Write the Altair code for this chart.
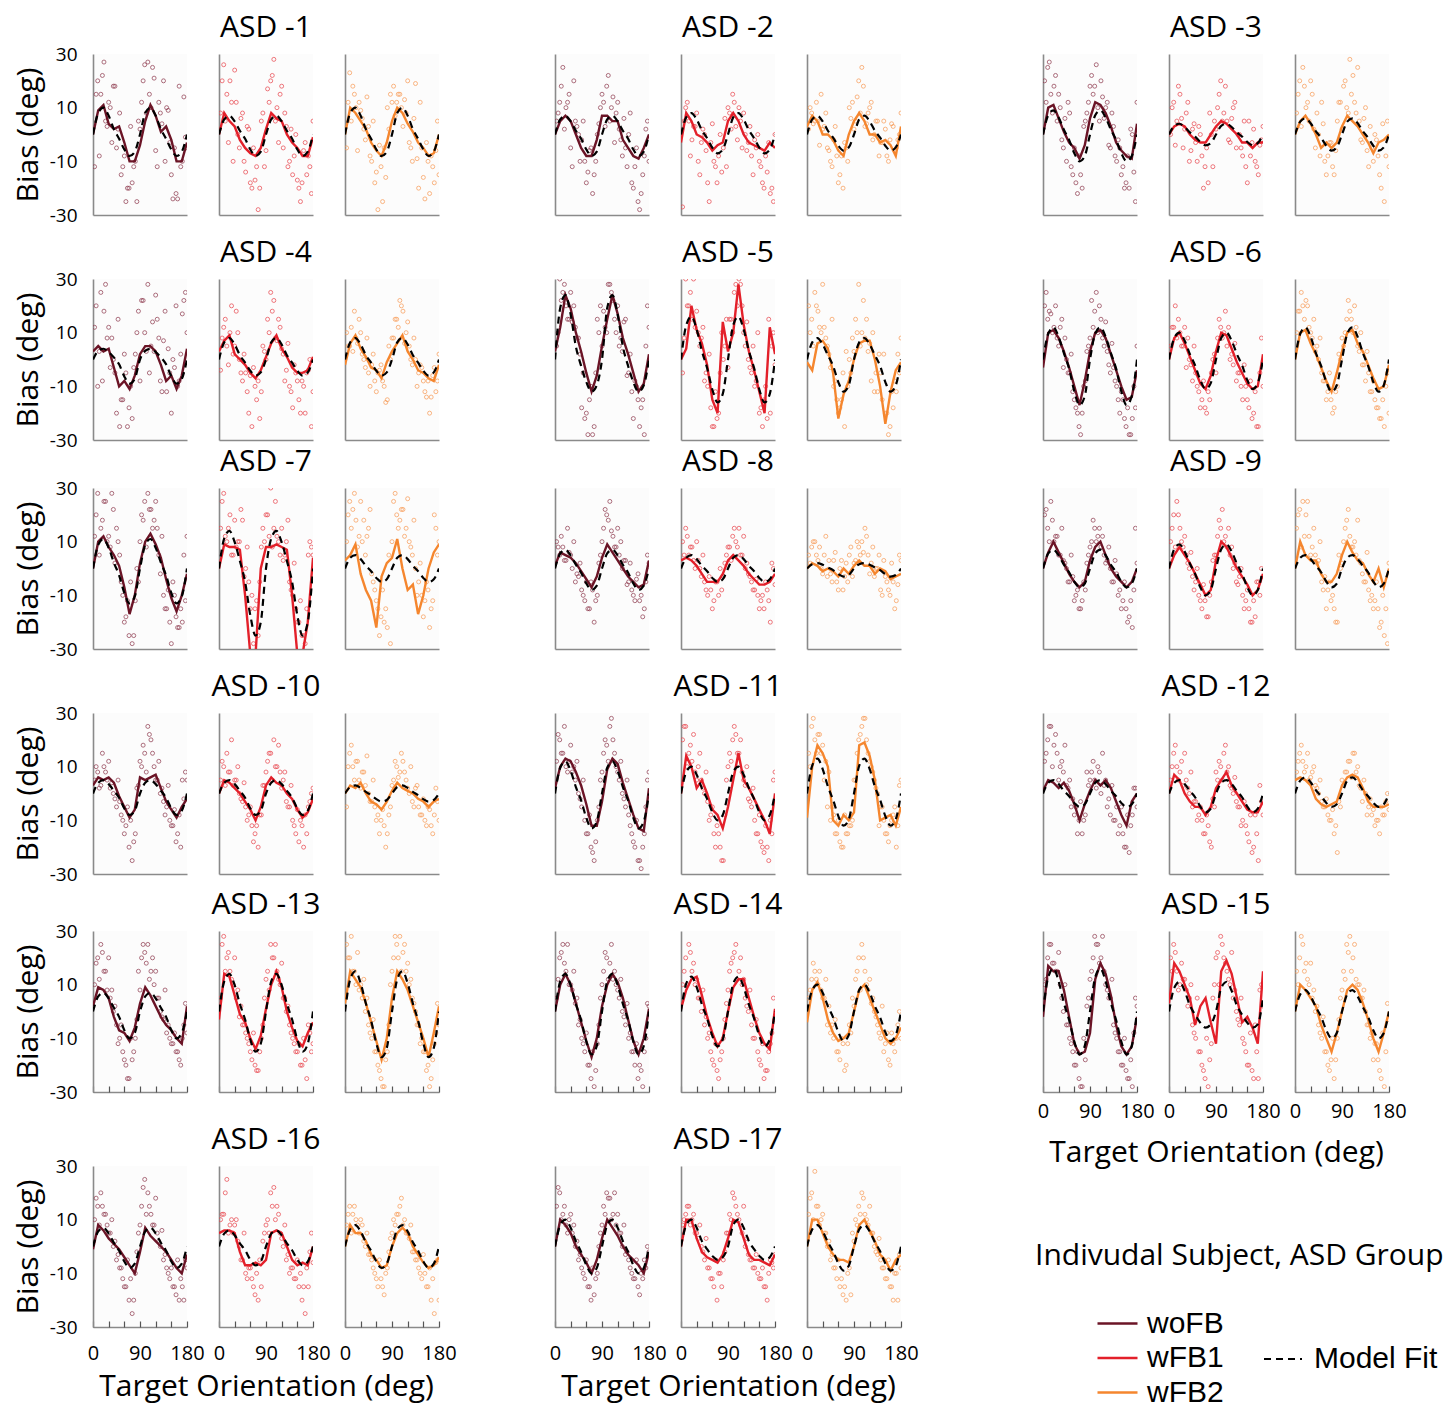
import altair as alt
import pandas as pd

FONT = "Open Sans"
LEGEND_FONT = "Liberation Sans"
CONDITIONS = ["woFB", "wFB1", "wFB2"]
LINE_COLORS = ["#6b1426", "#e3202a", "#f5862e"]
POINT_COLORS = ["#8e3a4e", "#e9454c", "#f79b55"]
SUBJECT_TITLES = ["ASD -%d" % k for k in range(1, 18)]
Y_TICKS = [-30, -20, -10, 0, 10, 20, 30]
X_LABEL_TICKS = [0, 90, 180]
X_MINOR_TICKS = [0, 30, 60, 90, 120, 150, 180]
CURVE_X = [0, 10, 20, 30, 40, 50, 60, 70, 80, 90, 100, 110, 120, 130, 140, 150, 160, 170, 180]
POINT_X = [3, 9, 15, 21, 27, 33, 39, 45, 51, 57, 63, 69, 75, 81, 87, 93, 99, 105, 111, 117,
           123, 129, 135, 141, 147, 153, 159, 165, 171, 177]
POINT_X2 = [6, 12, 18, 24, 30, 36, 42, 48, 54, 60, 66, 72, 78, 84, 90, 96, 102, 108, 114, 120,
            126, 132, 138, 144, 150, 156, 162, 168, 174, 180]

# ---- subject 1 ----
FIT_S1 = [[0, 8, 10, 7, 2, -1.6, -5.6, -8, -6.4, 0, 8, 10, 7, 2, -1.6, -5.6, -8, -6.4, 0],
          [0, 5.6, 7, 4.9, 1.4, -1.6, -5.6, -8, -6.4, 0, 5.6, 7, 4.9, 1.4, -1.6, -5.6, -8, -6.4, 0],
          [0, 8, 10, 7, 2, -1.6, -5.6, -8, -6.4, 0, 8, 10, 7, 2, -1.6, -5.6, -8, -6.4, 0]]
LINE_S1 = [[0, 9, 11, 4, 2, 3, -3, -10, -10, -4, 5, 11, 7, 1, 3, -2, -10, -10, -3],
           [0, 8, 5, 3, -2, -5, -7, -8, -5, 2, 8, 6, 5, 0, -3, -5, -8, -8, -1],
           [0, 10, 8, 5, 2, -3, -6, -8, -3, 5, 10, 8, 4, 1, -3, -5, -8, -7, 0]]
PTS_S1 = [[-12, 20, 15, 27, 3, 10, 18, -5, 8, -12, -25, -20, -18, -10, 5, 12, 26, 27, 10, 21, -12, 8, 20, 10, -3, -24, -22, 18, -10, -1],
          [8, 26, 15, 20, -10, 12, -5, 8, -14, 2, -20, -17, -28, 5, -12, 17, 20, 28, 10, 15, -5, 3, -10, -15, 0, -20, -18, -3, -8, -22],
          [-5, 23, 18, 10, 12, 6, -2, 3, -10, -18, -28, -12, -5, 10, 15, 18, 12, 15, 3, 8, -3, -10, 19, -20, -5, -24, -10, -8, -18, 5]]
PTSB_S1 = [[15, -8, 22, 5, 12, -3, 18, 2, -15, -8, -20, 3, -12, -25, 2, 20, 8, 15, 25, -6, 12, 4, -10, 9, -15, -5, -24, -12, 14, -5],
           [20, 5, -3, 12, 24, 0, 6, -10, 3, -18, -5, -12, -20, 8, -6, 12, 22, 5, -3, 18, 8, -12, 2, -8, -17, -25, -6, -15, -12, 5],
           [12, 5, 15, -6, 9, 2, 14, -8, 5, -14, -4, -25, -16, 2, 12, 7, 15, 10, 13, 20, -5, 6, -9, 12, -16, -3, -22, -12, -6, -15]]
# ---- subject 2 ----
FIT_S2 = [[0, 5.6, 7, 4.9, 1.4, -1.6, -5.6, -8, -6.4, 0, 5.6, 7, 4.9, 1.4, -1.6, -5.6, -8, -6.4, 0],
          [0, 6.4, 8, 5.6, 1.6, -1.4, -4.9, -7, -5.6, 0, 6.4, 8, 5.6, 1.6, -1.4, -4.9, -7, -5.6, 0],
          [0, 5.6, 7, 4.9, 1.4, -1.2, -4.2, -6, -4.8, 0, 5.6, 7, 4.9, 1.4, -1.2, -4.2, -6, -4.8, 0]]
LINE_S2 = [[0, 5, 7, 5, 0, -5, -8, -8, -2, 7, 7, 5, 5, -2, -5, -8, -9, -5, 0],
           [-3, 8, 5, 0, -1, -3, -6, -4, -3, 5, 8, 5, 0, -3, -4, -5, -6, -3, -5],
           [3, 7, 5, 0, 0, -2, -6, -8, 0, 5, 8, 5, 0, 0, -3, -2, -4, -8, 3]]
PTS_S2 = [[5, 12, 25, 10, 15, -12, 5, 0, -2, -10, -14, -5, -15, 0, 10, 12, 18, 5, 14, 8, 2, -8, -5, 0, -18, -12, -25, -22, -8, 5],
          [-27, 10, 5, -2, 3, -10, -3, 0, -18, -3, -10, -18, 0, -5, -12, 8, 15, 3, 10, -5, 0, -3, -8, -2, 0, -12, -20, -14, -22, -25],
          [2, 8, 5, 5, 15, 3, -5, -10, -2, -8, -15, -20, -5, 10, 12, 5, 20, 25, 3, 8, 12, 0, 5, -3, 5, -8, -2, 3, -5, 0]]
PTSB_S2 = [[8, 18, 2, 12, -5, 20, 3, -10, 5, -18, -6, -22, -10, 4, 15, 3, 22, 10, -3, 12, -2, 6, -12, 8, -20, -5, -28, -15, 2, -10],
           [5, 12, -8, 3, 8, -15, 2, -6, -25, 4, -12, -8, -14, 6, 10, 2, 12, -2, 5, 8, -6, 3, -15, -5, -10, -18, -8, -3, -20, 0],
           [10, 4, 12, -4, 2, 8, -6, -12, 3, -18, -8, -3, -10, 6, 2, 14, 8, 18, 4, 10, -2, 5, -8, -3, 2, -10, 4, -6, -2, 8]]
# ---- subject 3 ----
FIT_S3 = [[0, 7.2, 9, 6.3, 1.8, -2, -7, -10, -8, 0, 7.2, 9, 6.3, 1.8, -2, -7, -10, -8, 0],
          [0, 3.2, 4, 2.8, 0.8, -0.8, -2.8, -4, -3.2, 0, 3.2, 4, 2.8, 0.8, -0.8, -2.8, -4, -3.2, 0],
          [0, 4.8, 6, 4.2, 1.2, -1.2, -4.2, -6, -4.8, 0, 4.8, 6, 4.2, 1.2, -1.2, -4.2, -6, -4.8, 0]]
LINE_S3 = [[0, 10, 11, 6, 1, -3, -5, -9, -4, 6, 12, 11, 8, 3, -3, -6, -8, -9, 4],
           [0, 3, 4, 3, 0, -2, -3, -3, 0, 3, 5, 4, 2, 0, -3, -3, -5, -3, -3],
           [0, 5, 7, 4, 0, -5, -3, -5, -3, 3, 7, 5, 3, 0, -3, -7, -3, -2, 0]]
PTS_S3 = [[20, 25, 15, 18, 5, 10, -5, -10, 8, -15, -18, -8, -20, 5, 12, 22, 18, 10, 20, 6, 12, -5, 3, -10, -5, -12, -18, -20, 0, -25],
          [0, 12, 5, 15, -5, 8, -10, 2, -3, 3, -8, -12, -18, 0, 5, 10, 20, 8, 5, -3, 10, -5, 0, -8, -12, 5, -3, -10, -15, -2],
          [8, 20, 25, 10, 5, 15, -5, 0, 12, -10, -8, -3, -15, 5, 12, 18, 10, 28, 22, 8, 5, -3, 10, -12, -5, 0, -8, -20, -25, 5]]
PTSB_S3 = [[12, 27, 8, 22, 15, -2, 6, 12, -12, -5, -22, -15, 3, 8, 18, 15, 26, 5, 14, 10, -4, 8, -8, -2, -15, -20, -8, 2, -14, 12],
           [10, -4, 18, 6, 2, 12, -6, 4, -10, 0, -20, -5, 8, -12, 2, 15, 5, 18, -2, 6, 12, 0, -5, 5, -18, -8, 2, -12, -4, 3],
           [15, 3, 18, 12, 20, 2, 8, -8, 4, -15, -3, -12, -6, 12, 2, 20, 8, 15, 12, 25, -2, 6, -6, 3, -10, -2, -15, 4, -8, -12]]
# ---- subject 4 ----
FIT_S4 = [[0, 3.2, 4, 2.8, 0.8, -1.8, -6.3, -9, -7.2, 0, 3.2, 4, 2.8, 0.8, -1.8, -6.3, -9, -7.2, 0],
          [0, 6.4, 8, 5.6, 1.6, -1.2, -4.2, -6, -4.8, 0, 6.4, 8, 5.6, 1.6, -1.2, -4.2, -6, -4.8, 0],
          [0, 6.4, 8, 5.6, 1.6, -1.2, -4.2, -6, -4.8, 0, 6.4, 8, 5.6, 1.6, -1.2, -4.2, -6, -4.8, 0]]
LINE_S4 = [[3, 5, 3, 4, -3, -10, -8, -11, -6, 2, 5, 5, 3, -2, -8, -6, -11, -6, 4],
           [3, 7, 9, 2, 0, -2, -5, -7, -4, 1, 6, 9, 4, 1, -3, -5, -5, -4, 1],
           [-2, 6, 9, 4, 1, -3, -4, -7, -1, 3, 6, 9, 3, 0, -4, -5, -7, -8, -2]]
PTS_S4 = [[12, -10, 25, 18, 8, -3, 0, -20, -25, -15, -5, -18, -22, 2, 18, 22, 10, 28, 5, 3, 15, -8, 7, -12, -5, 0, 20, -8, 17, 25],
          [-4, 12, 5, 10, 2, 18, 0, -8, -5, -20, -25, -10, -8, -12, 3, 15, 25, 22, 7, 12, 2, -4, -10, -18, -5, -15, -8, -20, -4, -25],
          [10, 5, 3, 8, 15, 2, -3, -5, -2, -8, -5, -2, -10, -15, 0, 8, 15, 22, 18, 10, 5, -2, 0, -5, -3, -12, -8, -14, -3, -8]]
PTSB_S4 = [[20, 3, -8, 28, 12, 8, -5, 15, -15, 2, -25, -10, -3, 10, -8, 22, 3, -5, 14, 24, 8, -12, 18, 4, -20, -3, -10, 2, 22, 10],
           [8, 15, -2, 20, 5, 10, -5, 2, -12, -6, -3, -15, -22, 5, 0, 10, 18, 8, 15, 4, -8, 6, -12, -2, -8, -20, -10, -5, 0, -12],
           [5, 12, 18, 6, 10, 0, 8, -10, 2, -12, -4, -8, -16, 5, 8, 15, 12, 20, 6, 14, 0, 8, -10, -2, -8, -14, -20, -6, -12, 2]]
# ---- subject 5 ----
FIT_S5 = [[0, 19.2, 24, 16.8, 4.8, -2.4, -8.4, -12, -9.6, 0, 19.2, 24, 16.8, 4.8, -2.4, -8.4, -12, -9.6, 0],
          [0, 12.8, 16, 11.2, 3.2, -3.2, -11.2, -16, -12.8, 0, 12.8, 16, 11.2, 3.2, -3.2, -11.2, -16, -12.8, 0],
          [0, 6.4, 8, 5.6, 1.6, -2.4, -8.4, -12, -9.6, 0, 6.4, 8, 5.6, 1.6, -2.4, -8.4, -12, -9.6, 0]]
LINE_S5 = [[3, 12, 24, 19, 10, 3, -5, -12, -6, 5, 15, 24, 17, 8, 2, -5, -12, -9, 2],
           [0, 4, 20, 11, 6, -2, -15, -20, 14, 3, 10, 28, 13, 3, -4, -12, -20, 12, 2],
           [-1, -4, 6, 7, 4, -5, -22, -13, -8, 0, 6, 7, 7, 0, -10, -24, -12, -4, -1]]
PTS_S5 = [[5, 30, 25, 20, 15, 14, 12, 8, -18, -22, -28, -10, -25, 15, 20, 18, 10, 28, 22, 10, 5, 3, 15, -5, -12, -8, -15, -18, -28, 20],
          [-5, 30, 20, 15, 12, 10, 8, -8, -10, -18, -25, -22, -5, 0, 15, 15, 10, 28, 30, 20, 5, 0, -5, -10, 10, -18, -15, -22, -20, 10],
          [20, 15, 25, 18, 10, 12, 5, -3, -10, -15, -18, -5, 3, 0, 8, 15, 28, 10, 8, 3, -8, -12, -12, -5, 2, -20, -25, -18, -12, -5]]
PTSB_S5 = [[10, 22, 28, 15, 25, 20, 8, 2, -5, -20, -15, -28, -5, 10, 5, 12, 28, 25, 15, 20, 8, 14, -6, 2, -22, -10, -25, -15, 5, 12],
           [8, 20, 25, 30, 18, 5, 12, -5, 2, -25, -12, -20, 10, 5, -3, 15, 25, 20, 28, 10, 14, -3, 5, -8, -20, -25, -10, 15, 5, -2],
           [10, 5, 20, 12, 28, 8, 2, 15, -8, -20, -15, -25, -10, -5, 3, 10, 5, 22, 15, 6, 10, -5, 2, -15, -20, -28, -12, -8, 2, 8]]
# ---- subject 6 ----
FIT_S6 = [[0, 9.6, 12, 8.4, 2.4, -3.4, -11.9, -17, -13.6, 0, 9.6, 12, 8.4, 2.4, -3.4, -11.9, -17, -13.6, 0],
          [0, 8, 10, 7, 2, -2.2, -7.7, -11, -8.8, 0, 8, 10, 7, 2, -2.2, -7.7, -11, -8.8, 0],
          [0, 9.6, 12, 8.4, 2.4, -2.4, -8.4, -12, -9.6, 0, 9.6, 12, 8.4, 2.4, -2.4, -8.4, -12, -9.6, 0]]
LINE_S6 = [[-3, 10, 11, 8, 3, -3, -10, -17, -8, 3, 10, 11, 8, 2, -4, -10, -15, -14, -4],
           [0, 8, 10, 6, 1, -4, -9, -11, -6, 3, 10, 9, 4, -1, -5, -9, -11, -10, 2],
           [0, 10, 11, 6, 2, -3, -8, -12, -5, 3, 10, 11, 6, 3, -2, -7, -11, -10, -2]]
PTS_S6 = [[20, 15, 17, 12, 8, 12, -3, 0, -5, -12, -18, -25, -20, -8, 5, 22, 18, 10, 15, 5, 3, -5, -3, -10, -20, -15, -25, -28, -22, -18],
          [5, 12, 8, 10, 5, -3, 0, -8, -5, -12, -15, -18, -12, -5, 2, 8, 12, 10, 5, 0, -2, -8, -5, -15, -10, -18, -22, -12, -25, 8],
          [10, 18, 20, 22, 12, 8, 3, 0, -5, -8, -12, -15, -18, -10, 0, 5, 15, 18, 10, 12, 3, -2, -8, -5, -12, -15, -18, -22, -25, -5]]
PTSB_S6 = [[25, 18, 10, 20, 5, 15, 8, -5, 2, -15, -20, -28, -10, 3, 8, 12, 25, 20, 8, 14, -2, 6, -8, -15, -12, -22, -18, -28, -10, 5],
           [12, 20, 15, 5, 12, 8, -2, 5, -10, -18, -8, -20, -15, 0, -5, 15, 8, 18, 12, 2, 6, -5, -10, -2, -15, -8, -20, -25, -5, -10],
           [18, 25, 15, 20, 10, 15, 5, 8, -8, -15, -5, -20, -12, 2, 8, 10, 22, 15, 20, 5, 10, -2, 3, -12, -8, -18, -22, -15, -10, -20]]
# ---- subject 7 ----
FIT_S7 = [[0, 8.8, 11, 7.7, 2.2, -2.6, -9.1, -13, -10.4, 0, 8.8, 11, 7.7, 2.2, -2.6, -9.1, -13, -10.4, 0],
          [0, 11.2, 14, 9.8, 2.8, -5, -17.5, -25, -20, 0, 11.2, 14, 9.8, 2.8, -5, -17.5, -25, -20, 0],
          [0, 4, 5, 3.5, 1, -1, -3.5, -5, -4, 0, 4, 5, 3.5, 1, -1, -3.5, -5, -4, 0]]
LINE_S7 = [[0, 10, 12, 8, 5, 1, -7, -17, -10, 2, 10, 13, 9, 4, -4, -11, -16, -10, -2],
           [0, 9, 8, 8, 7, -10, -32, -32, 0, 8, 8, 9, 8, 7, -10, -32, -32, -20, 4],
           [3, 5, 9, -2, -8, -12, -22, -3, 2, 4, 11, 0, -8, -6, -17, -10, 0, 6, 9]]
PTS_S7 = [[12, 28, 15, 25, 10, 8, 22, 15, 5, -10, -18, -25, -28, -12, -5, 20, 25, 28, 22, 18, 15, -2, -10, -15, -20, -5, -18, -22, -20, -12],
          [15, 28, 10, 20, 5, 8, 10, 18, 0, -5, -10, -15, -25, 8, 10, 20, 30, 15, 12, 5, 3, 10, -5, -10, -15, -20, -25, -28, 5, 8],
          [10, 25, 22, 18, 12, 10, 5, 15, -2, -8, -15, -18, -20, -22, -28, 25, 20, 18, 22, 15, 10, 5, 0, -5, -10, -12, -8, -15, 20, 5]]
PTSB_S7 = [[20, 5, 18, 25, 12, 28, 2, 10, -5, -20, -12, -5, -25, 0, 10, 18, 8, 22, 15, 25, 5, 12, -15, -8, -28, -10, -22, -15, 5, 12],
           [25, 12, 15, 5, 18, 10, 22, -3, 8, -15, -28, -12, -5, 15, 20, 12, 8, 25, 10, 15, 5, 18, -8, 2, -20, -12, -25, -15, 10, 5],
           [20, 15, 28, 8, 25, 18, 12, 22, -5, -12, -25, -8, -15, 5, 10, 28, 15, 22, 12, 26, 8, 18, -10, 2, -18, -5, -22, -12, 15, 10]]
# ---- subject 8 ----
FIT_S8 = [[0, 5.6, 7, 4.9, 1.4, -1.6, -5.6, -8, -6.4, 0, 5.6, 7, 4.9, 1.4, -1.6, -5.6, -8, -6.4, 0],
          [0, 4, 5, 3.5, 1, -1, -3.5, -5, -4, 0, 4, 5, 3.5, 1, -1, -3.5, -5, -4, 0],
          [0, 1.6, 2, 1.4, 0.4, -0.6, -2.1, -3, -2.4, 0, 1.6, 2, 1.4, 0.4, -0.6, -2.1, -3, -2.4, 0]]
LINE_S8 = [[1, 6, 5, 4, 2, -1, -4, -7, -3, 4, 9, 6, 3, 0, -3, -5, -7, -6, 3],
           [3, 4, 3, 1, -2, -5, -5, -5, -2, 3, 5, 3, 1, -2, -4, -6, -6, -5, -2],
           [0, 2, 1, -1, 0, -1, -3, 0, -2, 1, 3, 1, 1, -2, 0, -1, -4, -3, -2]]
PTS_S8 = [[10, 5, 8, 3, 6, 0, -5, -3, -8, -12, -15, -5, -20, -10, 5, 15, 20, 25, 12, 8, 5, 0, 3, -5, -8, -12, -2, -10, -15, 5],
          [10, 15, 5, 8, 0, 3, -3, -5, -10, -8, -12, -5, 0, -3, 5, 8, 12, 10, 15, 5, 0, -2, -5, -8, -10, -12, -15, -8, -20, 0],
          [5, 8, 10, 3, 0, 5, -3, -2, 3, -5, 0, -8, 2, 5, -3, 3, 8, 10, 15, 5, 2, -3, 0, -8, 3, -5, -10, -5, -12, 5]]
PTSB_S8 = [[8, 12, 3, 15, 5, 10, -2, 2, -10, -5, -15, -8, -12, 2, 10, 22, 18, 14, 8, 15, 10, 3, -6, 2, -10, -4, -12, -18, -5, 2],
           [5, 12, 8, 3, 10, 0, 5, -8, -3, -15, -5, -10, -8, 2, 8, 3, 15, 8, 5, 12, 2, -3, -8, -4, -15, -10, -5, -12, 2, -6],
           [2, 10, 5, 8, -2, 12, 3, -5, 6, -8, 3, -3, -5, 8, 2, 10, 5, 6, 12, -2, 8, 0, 5, -10, -3, -8, 2, -15, -6, 3]]
# ---- subject 9 ----
FIT_S9 = [[0, 5.6, 7, 4.9, 1.4, -1.4, -4.9, -7, -5.6, 0, 5.6, 7, 4.9, 1.4, -1.4, -4.9, -7, -5.6, 0],
          [0, 7.2, 9, 6.3, 1.8, -2, -7, -10, -8, 0, 7.2, 9, 6.3, 1.8, -2, -7, -10, -8, 0],
          [0, 4, 5, 3.5, 1, -1.4, -4.9, -7, -5.6, 0, 4, 5, 3.5, 1, -1.4, -4.9, -7, -5.6, 0]]
LINE_S9 = [[0, 6, 10, 6, 2, -2, -5, -7, -5, 3, 8, 10, 5, 0, -3, -5, -7, -5, 0],
           [0, 5, 8, 5, 2, -2, -6, -10, -8, 3, 10, 8, 4, 0, -3, -6, -10, -8, -2],
           [0, 10, 5, 3, 3, -2, -5, -5, -2, 5, 10, 6, 3, 2, -2, -5, 0, -7, 0]]
PTS_S9 = [[20, 15, 25, 10, 12, 5, 3, 0, -5, -3, -10, -15, -12, -8, 5, 10, 15, 12, 8, 5, 3, 0, -5, -2, -8, -12, -15, -18, -22, 15],
          [10, 20, 25, 15, 8, 5, 0, -3, -5, -10, -15, -12, -18, -5, 5, 12, 15, 10, 8, 5, 0, -5, -3, -10, -12, -15, -20, -18, -5, 0],
          [15, 22, 25, 20, 12, 8, 5, 3, -5, -3, -8, -12, -15, -20, 0, 10, 18, 12, 8, 5, 3, -2, -5, -8, -10, -12, -15, -20, -25, -28]]
PTSB_S9 = [[22, 10, 18, 12, 5, 15, 2, -5, 5, -12, -8, -15, -5, 2, 8, 18, 10, 15, 12, 2, 8, -5, 3, -10, -15, -5, -20, -12, -8, 2],
           [15, 8, 20, 10, 12, 2, 6, -8, 0, -12, -6, -18, -10, 3, 5, 18, 22, 12, 15, 8, 2, -6, 0, -15, -8, -20, -12, -5, -10, -3],
           [20, 8, 12, 25, 5, 15, 2, 10, -8, -15, -5, -10, -20, 5, 2, 15, 22, 8, 10, 18, 2, -5, 6, -12, -15, -5, -22, -10, -15, 2]]
# ---- subject 10 ----
FIT_S10 = [[0, 4, 5, 3.5, 1, -1.6, -5.6, -8, -6.4, 0, 4, 5, 3.5, 1, -1.6, -5.6, -8, -6.4, 0],
           [0, 4, 5, 3.5, 1, -1.6, -5.6, -8, -6.4, 0, 4, 5, 3.5, 1, -1.6, -5.6, -8, -6.4, 0],
           [0, 2.4, 3, 2.1, 0.6, -0.6, -2.1, -3, -2.4, 0, 2.4, 3, 2.1, 0.6, -0.6, -2.1, -3, -2.4, 0]]
LINE_S10 = [[3, 6, 5, 6, 4, -1, -5, -9, -6, 6, 5, 6, 7, 2, -3, -6, -9, -5, -2],
            [0, 5, 4, 2, 0, -3, -6, -10, -5, 3, 6, 4, 3, 0, -2, -6, -9, -7, -2],
            [0, 3, 2, 4, 0, -3, -4, -6, -3, 1, 4, 2, 1, 0, -2, -3, -5, -3, -2]]
PTS_S10 = [[5, 8, 3, 10, 5, 2, 0, -5, -3, -10, -12, -20, -25, -15, 3, 10, 15, 25, 20, 10, 5, 0, -3, -5, -10, -12, -18, -8, 5, 8],
           [5, 10, 15, 8, 3, 5, 0, -3, -5, -8, -12, -15, -20, -8, 3, 12, 15, 20, 10, 8, 5, -3, -5, -10, -15, -18, -12, -8, -5, 0],
           [-5, 15, 10, 12, 5, 8, 3, 0, -3, -5, -8, -10, -12, -15, -5, 5, 10, 8, 12, 5, 0, -3, 2, -5, -8, -10, -5, -12, -8, -3]]
PTSB_S10 = [[10, 2, 15, 8, 12, 4, -2, 5, -8, -15, -5, -10, -18, 2, 12, 18, 8, 22, 15, 5, 12, 2, -8, 3, -12, -6, -15, -20, -2, 5],
            [12, 3, 8, 20, 5, 10, -2, 4, -10, -5, -18, -12, -8, 3, 8, 15, 5, 10, 18, 2, 8, -5, 3, -12, -6, -10, -20, -15, -3, 2],
            [10, 18, 5, 12, 2, 8, 14, -3, 5, -10, -15, -6, -20, -8, 3, 12, 6, 15, 8, 2, 10, -5, 3, -8, -2, -12, -6, -15, 2, -10]]
# ---- subject 11 ----
FIT_S11 = [[0, 9.6, 12, 8.4, 2.4, -2.6, -9.1, -13, -10.4, 0, 9.6, 12, 8.4, 2.4, -2.6, -9.1, -13, -10.4, 0],
           [0, 8, 10, 7, 2, -2, -7, -10, -8, 0, 8, 10, 7, 2, -2, -7, -10, -8, 0],
           [0, 10.4, 13, 9.1, 2.6, -2.4, -8.4, -12, -9.6, 0, 10.4, 13, 9.1, 2.6, -2.4, -8.4, -12, -9.6, 0]]
LINE_S11 = [[2, 10, 13, 12, 8, 3, -4, -12, -12, -3, 9, 13, 11, 4, -2, -8, -13, -14, 2],
            [0, 14, 10, 2, 5, 0, -6, -8, -13, -5, 5, 15, 5, 2, -2, -6, -10, -15, 0],
            [-9, 10, 18, 15, 10, -10, -12, -8, -10, -7, 18, 19, 14, 5, -10, -9, -8, -12, -5]]
PTS_S11 = [[12, 20, 15, 10, 12, 8, 5, 0, -5, -10, -15, -20, -25, -10, 5, 15, 18, 25, 20, 10, 5, 0, -5, -8, -15, -20, -25, -28, -15, 5],
           [20, 25, 15, 12, 8, 10, 5, 0, -3, -8, -15, -12, -20, -25, 5, 15, 20, 22, 15, 8, 3, -2, -5, -10, -15, -18, -22, -20, -10, 5],
           [15, 25, 20, 22, 15, 5, -5, -10, -8, -15, -18, -20, -15, -12, -10, 5, 20, 25, 28, 15, 10, 5, 0, -5, -10, -15, -12, -8, -20, 3]]
PTSB_S11 = [[22, 15, 25, 8, 18, 10, 12, -2, 5, -15, -8, -22, -18, -5, 8, 20, 12, 28, 15, 8, 12, -2, 5, -12, -18, -10, -25, -20, -5, 8],
            [25, 10, 18, 22, 5, 15, 2, 8, -10, -5, -20, -15, -25, -8, 10, 12, 25, 15, 20, 5, 10, -3, 2, -15, -8, -20, -12, -25, -15, 8],
            [10, 28, 15, 22, 18, 12, 8, -5, -15, -10, -20, -8, -15, -12, 5, 15, 22, 28, 20, 12, 8, 2, -12, -5, -15, -18, -10, -5, -12, 5]]
# ---- subject 12 ----
FIT_S12 = [[0, 4, 5, 3.5, 1, -1, -3.5, -5, -4, 0, 4, 5, 3.5, 1, -1, -3.5, -5, -4, 0],
           [0, 4, 5, 3.5, 1, -1.4, -4.9, -7, -5.6, 0, 4, 5, 3.5, 1, -1.4, -4.9, -7, -5.6, 0],
           [0, 4.8, 6, 4.2, 1.2, -1, -3.5, -5, -4, 0, 4.8, 6, 4.2, 1.2, -1, -3.5, -5, -4, 0]]
LINE_S12 = [[1, 5, 4, 2, 4, 1, -4, -10, -4, 1, 5, 3, 5, 2, -3, -8, -12, -3, 0],
            [0, 7, 5, 0, -3, -5, -5, -8, -5, 2, 5, 8, 3, 0, -3, -6, -7, -7, -3],
            [5, 6, 5, 3, -2, -4, -5, -4, -3, 3, 6, 7, 6, 2, -3, -5, -5, -5, -4]]
PTS_S12 = [[12, 20, 25, 18, 15, 10, 8, 3, 5, -2, -5, -10, -15, -8, 3, 8, 5, 10, 0, 3, -5, -8, -10, -5, -12, -15, -20, -22, -8, 2],
           [5, 15, 10, 8, 3, 5, 0, -5, -3, -8, -10, -15, -12, -20, -5, 5, 10, 15, 8, 3, 0, -3, -5, -10, -12, -18, -22, -8, -25, -3],
           [8, 15, 12, 10, 5, 8, 3, 0, -3, -5, -8, -10, -15, -22, -5, 3, 8, 12, 15, 8, 3, -3, 0, -5, -8, -12, -10, -5, -8, 0]]
PTSB_S12 = [[15, 25, 10, 22, 5, 12, 18, 2, -5, -8, -15, -3, -10, 8, 5, 12, 2, 8, 15, 5, -2, 3, -10, -15, -5, -20, -8, -12, 2, -5],
            [10, 18, 5, 12, 15, 2, 8, -3, -10, -5, -15, -8, -18, -2, 8, 12, 5, 18, 10, 2, 6, -5, -12, -3, -15, -8, -20, -15, 3, -8],
            [12, 18, 8, 15, 6, 10, 2, 5, -5, -2, -10, -6, -12, -3, 5, 8, 12, 6, 15, 10, 2, 5, -8, -2, -6, -10, -15, -8, -3, -6]]
# ---- subject 13 ----
FIT_S13 = [[0, 5.6, 7, 4.9, 1.4, -2, -7, -10, -8, 0, 5.6, 7, 4.9, 1.4, -2, -7, -10, -8, 0],
           [0, 11.2, 14, 9.8, 2.8, -3, -10.5, -15, -12, 0, 11.2, 14, 9.8, 2.8, -3, -10.5, -15, -12, 0],
           [0, 12, 15, 10.5, 3, -3.4, -11.9, -17, -13.6, 0, 12, 15, 10.5, 3, -3.4, -11.9, -17, -13.6, 0]]
LINE_S13 = [[2, 9, 8, 5, -2, -7, -8, -11, -6, 3, 9, 6, 2, -2, -5, -7, -10, -12, 2],
            [-3, 14, 13, 6, -1, -4, -10, -14, -9, 1, 10, 15, 9, 0, -6, -11, -13, -8, -4],
            [3, 15, 12, 9, 3, -4, -11, -18, -10, 5, 15, 12, 8, 2, -4, -10, -17, -8, 2]]
PTS_S13 = [[10, 20, 25, 15, 8, 5, 0, -5, -10, -15, -20, -25, -18, -10, 15, 20, 22, 25, 15, 10, 5, 0, -3, -8, -10, -12, -15, -18, -10, 3],
           [5, 28, 20, 15, 10, 5, -2, -5, -8, -12, -18, -20, -22, -10, 5, 15, 25, 20, 15, 10, 5, 0, -5, -10, -15, -12, -20, -18, -5, -15],
           [25, 20, 15, 10, 8, 5, 0, -5, -10, -15, -20, -25, -28, -15, 10, 20, 25, 28, 22, 15, 10, 5, 0, -5, -10, -15, -20, -25, -12, 3]]
PTSB_S13 = [[18, 12, 22, 15, 20, 8, 2, -12, -5, -18, -25, -10, -15, -3, 8, 25, 18, 12, 20, 15, 5, -2, 8, -5, -12, -8, -15, -20, -5, -8],
            [25, 15, 22, 12, 20, 8, 2, -5, -10, -15, -8, -22, -15, -5, 12, 8, 20, 25, 12, 18, 5, 2, -8, -12, -15, -20, -10, -25, -8, -12],
            [20, 28, 15, 22, 10, 12, 5, -8, -3, -15, -22, -28, -18, -5, 15, 28, 20, 15, 25, 18, 12, 3, -5, -12, -15, -22, -28, -18, -8, -5]]
# ---- subject 14 ----
FIT_S14 = [[0, 11.2, 14, 9.8, 2.8, -3.2, -11.2, -16, -12.8, 0, 11.2, 14, 9.8, 2.8, -3.2, -11.2, -16, -12.8, 0],
           [0, 10.4, 13, 9.1, 2.6, -2.6, -9.1, -13, -10.4, 0, 10.4, 13, 9.1, 2.6, -2.6, -9.1, -13, -10.4, 0],
           [0, 8, 10, 7, 2, -2.2, -7.7, -11, -8.8, 0, 8, 10, 7, 2, -2.2, -7.7, -11, -8.8, 0]]
LINE_S14 = [[0, 10, 14, 10, 3, -4, -11, -17, -10, 2, 10, 14, 11, 5, -3, -11, -16, -10, 1],
            [1, 8, 12, 13, 6, -2, -8, -13, -10, 0, 9, 12, 12, 5, -2, -8, -12, -14, 1],
            [-4, 8, 11, 5, -3, -8, -11, -10, -8, 0, 8, 10, 5, 0, -5, -10, -12, -10, -6]]
PTS_S14 = [[5, 20, 25, 15, 10, 8, 3, -5, -10, -15, -20, -25, -28, -12, 5, 15, 20, 18, 12, 10, 5, 0, -5, -10, -15, -20, -25, -22, -15, 3],
           [10, 20, 25, 15, 10, 5, 0, -5, -10, -15, -20, -22, -18, -10, 3, 15, 20, 25, 15, 10, 5, 0, -5, -10, -15, -20, -25, -22, -12, 5],
           [5, 12, 15, 10, 8, 5, -5, -8, -10, -15, -18, -12, -20, -5, 5, 12, 20, 25, 15, 8, 3, 0, -5, -10, -15, -8, -20, -12, -10, 0]]
PTSB_S14 = [[12, 22, 18, 25, 10, 15, 5, -3, -12, -8, -20, -15, -22, -5, 10, 22, 12, 25, 15, 8, 12, -2, 3, -8, -15, -12, -20, -28, -10, 2],
            [15, 10, 22, 18, 12, 5, 8, -2, -8, -18, -12, -25, -15, -3, 8, 18, 22, 12, 20, 12, 2, 8, -10, -3, -18, -12, -22, -15, -8, -3],
            [8, 18, 12, 15, 5, 12, 2, -5, -3, -15, -10, -22, -12, -8, 2, 15, 8, 20, 10, 12, 5, -2, -8, 2, -12, -18, -8, -15, -5, -10]]
# ---- subject 15 ----
FIT_S15 = [[0, 12.8, 16, 11.2, 3.2, -3.2, -11.2, -16, -12.8, 0, 12.8, 16, 11.2, 3.2, -3.2, -11.2, -16, -12.8, 0],
           [0, 8.8, 11, 7.7, 2.2, -1.2, -4.2, -6, -4.8, 0, 8.8, 11, 7.7, 2.2, -1.2, -4.2, -6, -4.8, 5],
           [0, 6.4, 8, 5.6, 1.6, -2, -7, -10, -8, 0, 6.4, 8, 5.6, 1.6, -2, -7, -10, -8, 0]]
LINE_S15 = [[-2, 17, 15, 15, 8, -2, -12, -16, -15, -8, 12, 18, 14, 6, -5, -13, -16, -13, -2],
            [3, 18, 15, 10, 5, -5, 2, 5, -4, -12, 15, 19, 14, 5, -4, -2, -6, -12, 15],
            [0, 10, 8, 5, 2, -5, -10, -15, -8, 0, 8, 10, 8, 3, -3, -10, -15, -8, 0]]
PTS_S15 = [[10, 20, 25, 18, 15, 10, 0, -5, -10, -15, -20, -25, -28, -18, 5, 15, 28, 25, 20, 15, 8, 5, -5, -10, -15, -20, -22, -25, -28, 5],
           [20, 25, 15, 10, 12, 8, 5, -5, -10, -15, -20, -25, -28, -12, 10, 22, 28, 20, 15, 10, 5, 0, -5, -10, -15, -20, -22, -5, -25, 10],
           [15, 20, 25, 18, 10, 5, 0, -5, -10, -15, -20, -18, -25, -10, 5, 15, 25, 28, 20, 12, 10, 5, 0, -5, -8, -12, -18, -25, -28, 3]]
PTSB_S15 = [[12, 25, 18, 15, 22, 5, 10, -5, -12, -20, -15, -28, -10, 2, 12, 20, 25, 18, 28, 10, 5, 12, -8, -15, -20, -10, -25, -18, -8, 2],
            [15, 22, 8, 18, 12, 2, 10, -8, 5, -15, -22, -10, -18, 5, 20, 10, 25, 18, 12, 22, 8, -3, 5, -12, -20, -8, -25, -15, 8, 2],
            [10, 28, 15, 12, 18, 8, 2, -8, -2, -15, -22, -10, -18, -3, 8, 12, 22, 15, 25, 10, 5, 8, -5, -10, -18, -12, -22, -8, -15, -3]]
# ---- subject 16 ----
FIT_S16 = [[0, 5.6, 7, 4.9, 1.4, -1.6, -5.6, -8, -6.4, 0, 5.6, 7, 4.9, 1.4, -1.6, -5.6, -8, -6.4, 0],
           [0, 4.8, 6, 4.2, 1.2, -1.4, -4.9, -7, -5.6, 0, 4.8, 6, 4.2, 1.2, -1.4, -4.9, -7, -5.6, 0],
           [0, 6.4, 8, 5.6, 1.6, -1.6, -5.6, -8, -6.4, 0, 6.4, 8, 5.6, 1.6, -1.6, -5.6, -8, -6.4, 0]]
LINE_S16 = [[-1, 8, 6, 3, 1, -1, -4, -7, -10, -2, 7, 4, 2, 0, -2, -5, -8, -10, -3],
            [5, 6, 6, 5, -2, -7, -7, -6, -7, -5, 5, 6, 5, 0, -5, -7, -6, -7, 0],
            [0, 8, 5, 5, 2, -3, -5, -8, -7, 0, 5, 7, 5, 0, -3, -6, -8, -7, -4]]
PTS_S16 = [[10, 15, 20, 12, 8, 5, 0, -5, -8, -12, -15, -20, -25, -10, 5, 15, 25, 20, 12, 8, 5, 0, -5, -8, -12, -15, -18, -20, -15, -5],
           [10, 12, 25, 8, 5, 10, 0, -5, -10, -8, -12, -18, -20, -15, 5, 10, 20, 22, 15, 5, 0, -5, -10, -8, -12, -15, -20, -25, -15, 5],
           [8, 15, 12, 10, 5, 8, 0, -3, -5, -10, -15, -12, -18, -8, 3, 10, 12, 15, 8, 5, 3, -2, -5, -8, -12, -10, -15, -20, -25, -5]]
PTSB_S16 = [[18, 8, 15, 12, 5, 10, 2, -3, -8, -15, -5, -12, -20, -2, 8, 22, 12, 15, 8, 18, 2, 6, -3, -10, -8, -15, -5, -12, -20, -8],
            [12, 20, 5, 10, 8, 2, -5, 5, -12, -8, -15, -10, -5, 2, 8, 5, 15, 10, 12, 3, 8, -3, -8, -12, -5, -10, -15, -8, -2, -6],
            [12, 5, 15, 8, 10, 2, 5, -3, -8, -12, -5, -15, -10, -2, 5, 8, 12, 18, 10, 5, 8, -2, -5, -10, -3, -15, -8, -12, -6, -20]]
# ---- subject 17 ----
FIT_S17 = [[0, 8, 10, 7, 2, -2, -7, -10, -8, 0, 8, 10, 7, 2, -2, -7, -10, -8, 0],
           [0, 8, 10, 7, 2, -1, -3.5, -5, -4, 0, 8, 10, 7, 2, -1, -3.5, -5, -4, 0],
           [0, 6.4, 8, 5.6, 1.6, -1.8, -6.3, -9, -7.2, 0, 6.4, 8, 5.6, 1.6, -1.8, -6.3, -9, -7.2, 0]]
LINE_S17 = [[0, 10, 8, 5, 0, -3, -6, -10, -5, 3, 10, 7, 4, 0, -3, -5, -7, -10, -2],
            [0, 10, 10, 3, -2, -4, -5, -6, -3, 3, 10, 9, 3, -3, -5, -5, -6, -7, -3],
            [0, 10, 10, 5, 0, -3, -5, -5, -6, 0, 8, 10, 6, 2, -3, -5, -9, -5, -3]]
PTS_S17 = [[15, 20, 12, 8, 10, 5, 0, -5, -8, -12, -15, -20, -18, -10, 5, 15, 20, 18, 12, 8, 5, 0, -3, -5, -10, -12, -15, -10, -5, 0],
           [8, 12, 15, 10, 5, 3, 0, -5, -8, -12, -15, -20, -10, -5, 5, 12, 20, 15, 10, 5, 0, -3, -5, -8, -10, -12, -15, -20, -5, -8],
           [12, 20, 28, 15, 10, 5, 0, -5, -8, -12, -15, -18, -20, -8, 5, 10, 15, 20, 12, 8, 5, 0, -3, -5, -8, -12, -15, -20, -10, -3]]
PTSB_S17 = [[22, 10, 15, 5, 12, 8, 2, -3, -10, -5, -15, -8, -12, 0, 8, 12, 18, 10, 20, 12, 5, 8, -2, -8, -12, -5, -18, -12, -8, -2],
            [10, 15, 8, 12, 5, 8, -2, 3, -8, -12, -5, -10, -15, -2, 5, 10, 18, 12, 8, 15, 3, -5, -8, -3, -12, -8, -15, -10, -6, -3],
            [18, 10, 15, 8, 12, 5, 2, -3, -8, -5, -12, -15, -10, -18, 2, 8, 12, 18, 10, 15, 5, -2, 3, -8, -12, -5, -15, -10, -20, -8]]

FITS = [FIT_S1, FIT_S2, FIT_S3, FIT_S4, FIT_S5, FIT_S6, FIT_S7, FIT_S8, FIT_S9,
        FIT_S10, FIT_S11, FIT_S12, FIT_S13, FIT_S14, FIT_S15, FIT_S16, FIT_S17]
LINES = [LINE_S1, LINE_S2, LINE_S3, LINE_S4, LINE_S5, LINE_S6, LINE_S7, LINE_S8, LINE_S9,
         LINE_S10, LINE_S11, LINE_S12, LINE_S13, LINE_S14, LINE_S15, LINE_S16, LINE_S17]
POINTS = [PTS_S1, PTS_S2, PTS_S3, PTS_S4, PTS_S5, PTS_S6, PTS_S7, PTS_S8, PTS_S9,
          PTS_S10, PTS_S11, PTS_S12, PTS_S13, PTS_S14, PTS_S15, PTS_S16, PTS_S17]
POINTS_B = [PTSB_S1, PTSB_S2, PTSB_S3, PTSB_S4, PTSB_S5, PTSB_S6, PTSB_S7, PTSB_S8, PTSB_S9,
            PTSB_S10, PTSB_S11, PTSB_S12, PTSB_S13, PTSB_S14, PTSB_S15, PTSB_S16, PTSB_S17]

# ---------------- styling / layout ----------------
PW, PH = 94, 161
AXIS_GRAY = "#8a8a8a"
XS = alt.Scale(domain=[0, 180], nice=False, zero=False)
YS = alt.Scale(domain=[-30, 30], nice=False, zero=False)
CSCALE = alt.Scale(domain=CONDITIONS, range=LINE_COLORS)
DSCALE = alt.Scale(domain=["Model Fit"], range=[[7, 5]])

COLOR_LEGEND = alt.Legend(
    title="Indivudal Subject, ASD Group", orient="none", legendX=1032, legendY=1238,
    symbolType="stroke", symbolSize=1600, symbolStrokeWidth=2.5, symbolOffset=61,
    labelFont=LEGEND_FONT, labelFontSize=30, labelColor="black", labelOffset=8,
    titleFont=FONT, titleFontSize=30, titleFontWeight="normal", titleColor="black",
    titlePadding=37, titleLimit=700, rowPadding=3.5, clipHeight=31)
DASH_LEGEND = alt.Legend(
    title=None, orient="none", legendX=1260, legendY=1336,
    symbolType="stroke", symbolSize=1444, symbolStrokeWidth=2, symbolStrokeColor="black",
    labelFont=LEGEND_FONT, labelFontSize=30, labelColor="black", labelOffset=11)


def panel(s, ci, g, first, bottom, ticks):
    cond = CONDITIONS[ci]
    pts = pd.DataFrame({"x": POINT_X + POINT_X2, "y": POINTS[s][ci] + POINTS_B[s][ci]})
    ln = pd.DataFrame({"x": CURVE_X, "y": LINES[s][ci], "cond": cond})
    ft = pd.DataFrame({"x": CURVE_X, "y": FITS[s][ci], "fit": "Model Fit"})

    yaxis = alt.Axis(values=Y_TICKS, labels=first, ticks=False, domain=True, grid=False,
                     title="Bias (deg)" if first else None, labelPadding=16, titlePadding=6,
                     labelOverlap=False, labelExpr="'' + datum.value",
                     domainColor=AXIS_GRAY, domainWidth=1.6)
    xtitle = "Target Orientation (deg)" if (bottom and ci == 1) else None
    lpad, tpad = (9, 16) if g == 2 else (16, 8)
    xaxis = alt.Axis(values=X_LABEL_TICKS, labels=bottom, ticks=False, domain=True, grid=False,
                     title=xtitle, labelPadding=lpad, titlePadding=tpad, labelFlush=False,
                     labelOverlap=False, labelFontSize=20,
                     domainColor=AXIS_GRAY, domainWidth=1.6)

    l_pts = alt.Chart(pts).mark_point(shape="circle", size=16, filled=False, strokeWidth=0.8,
                                      opacity=0.9, clip=True, color=POINT_COLORS[ci]).encode(
        x=alt.X("x:Q", scale=XS, axis=xaxis),
        y=alt.Y("y:Q", scale=YS, axis=yaxis))
    if ticks:
        tick_axis = alt.Axis(orient="bottom", offset=-6, values=X_MINOR_TICKS, domain=False,
                             labels=False, ticks=True, tickSize=6, tickColor="#555555",
                             tickWidth=1.2, grid=False, title=None)
        lx = alt.X("x:Q", scale=XS, axis=tick_axis)
        fx = alt.X("x:Q", scale=XS, axis=None)
    else:
        lx = alt.X("x:Q", scale=XS)
        fx = alt.X("x:Q", scale=XS)
    l_line = alt.Chart(ln).mark_line(strokeWidth=2.4, clip=True).encode(
        x=lx, y=alt.Y("y:Q", scale=YS),
        color=alt.Color("cond:N", scale=CSCALE, legend=COLOR_LEGEND))
    l_fit = alt.Chart(ft).mark_line(color="black", strokeWidth=2.2, clip=True,
                                    interpolate="monotone").encode(
        x=fx, y=alt.Y("y:Q", scale=YS),
        strokeDash=alt.StrokeDash("fit:N", scale=DSCALE, legend=DASH_LEGEND))
    ch = alt.layer(l_pts, l_line, l_fit).properties(
        width=PW, height=PH, view=alt.ViewBackground(fill="#fcfcfc", stroke=None))
    if ticks:
        ch = ch.resolve_axis(x="independent")
    if ci == 1:
        ch = ch.properties(title=alt.TitleParams(SUBJECT_TITLES[s], font=FONT, fontSize=30,
                                                 fontWeight="normal", color="black",
                                                 anchor="middle", offset=11))
    return ch


def spacer(w, h):
    return alt.Chart(alt.Data(values=[{"v": 0}])).mark_point(opacity=0).encode(
        x=alt.value(0), y=alt.value(0)).properties(width=w, height=h)


COL_W = [58, PW, PW, PW, 52, PW, PW, PW, 78, PW, PW, PW]
COL_ROLE = [None, (0, 0), (0, 1), (0, 2), None, (1, 0), (1, 1), (1, 2), None, (2, 0), (2, 1), (2, 2)]
ROW_H = [51, PH, 64, PH, 48, PH, 64, PH, 57, PH, 74, PH]
ROW_ROLE = [None, 0, None, 1, None, 2, None, 3, None, 4, None, 5]
BOTTOM_ROW = {0: 5, 1: 5, 2: 4}

cells = []
for rr, prow in enumerate(ROW_ROLE):
    for cc, role in enumerate(COL_ROLE):
        if prow is None or role is None:
            cells.append(spacer(COL_W[cc], ROW_H[rr]))
            continue
        g, ci = role
        s = prow * 3 + g
        if s >= 17:
            cells.append(spacer(COL_W[cc], ROW_H[rr]))
            continue
        cells.append(panel(s, ci, g, first=(g == 0 and ci == 0), bottom=(prow == BOTTOM_ROW[g]),
                           ticks=(prow >= 4)))

chart = alt.concat(*cells, columns=12, spacing={"row": 0, "column": 32}, bounds="flush").properties(
    padding=0, background="white"
).configure(font=FONT).configure_view(stroke=None).configure_axis(
    labelFont=FONT, titleFont=FONT, labelFontSize=19, titleFontSize=30, titleFontWeight="normal",
    labelColor="black", titleColor="black"
).configure_title(font=FONT, fontSize=30, fontWeight="normal", color="black")

chart.save("out.html", embed_options={"renderer": "svg", "actions": False})
